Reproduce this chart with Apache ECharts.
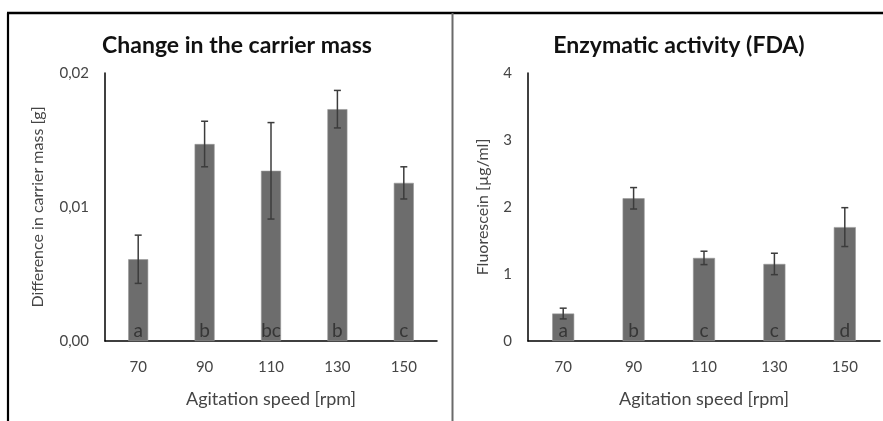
<!DOCTYPE html>
<html>
<head>
<meta charset="utf-8">
<script src="https://cdn.jsdelivr.net/npm/echarts@6/dist/echarts.min.js"></script>
<style>
  html, body { margin: 0; padding: 0; background: #fff; }
  #chart { width: 883px; height: 421px; }
</style>
</head>
<body>
<div id="chart"></div>
<script>
// Agitation speeds shared by both panels
const speeds = ['70', '90', '110', '130', '150'];

// Panel 1: change in carrier mass [g]
const massMean = [0.0061, 0.0147, 0.0127, 0.0173, 0.0118];
const massErr = [0.0018, 0.0017, 0.0036, 0.0014, 0.0012];
const massGroups = ['a', 'b', 'bc', 'b', 'c'];
const massTicks = [0, 0.01, 0.02];

// Panel 2: enzymatic activity, fluorescein [µg/ml]
const fdaMean = [0.41, 2.13, 1.24, 1.15, 1.70];
const fdaErr = [0.08, 0.16, 0.10, 0.16, 0.29];
const fdaGroups = ['a', 'b', 'c', 'c', 'd'];
const fdaTicks = [0, 1, 2, 3, 4];

const FONT = 'Lato, "Open Sans", sans-serif';
const BAR = '#6d6d6d';
const TXT = '#454545';

function errRows(mean, err) {
  return mean.map((m, i) => [i, m - err[i], m + err[i]]);
}

// Vertical whisker with caps, placed through the grid's own scales
function renderErr(params, api) {
  const x = api.value(0);
  const lo = api.coord([x, api.value(1)]);
  const hi = api.coord([x, api.value(2)]);
  const cap = 3.5;
  const style = { stroke: '#3c3c3c', lineWidth: 1.5 };
  return {
    type: 'group',
    children: [
      { type: 'line', shape: { x1: lo[0], y1: lo[1], x2: hi[0], y2: hi[1] }, style },
      { type: 'line', shape: { x1: hi[0] - cap, y1: hi[1], x2: hi[0] + cap, y2: hi[1] }, style },
      { type: 'line', shape: { x1: lo[0] - cap, y1: lo[1], x2: lo[0] + cap, y2: lo[1] }, style }
    ]
  };
}

function xAxisFor(gridIndex) {
  return {
    type: 'category', gridIndex, data: speeds,
    name: 'Agitation speed [rpm]', nameLocation: 'middle', nameGap: 49,
    nameTextStyle: { fontFamily: FONT, fontSize: 18, color: TXT },
    axisLine: { lineStyle: { color: '#000', width: 1.5 } },
    axisTick: { show: false },
    axisLabel: { fontFamily: FONT, fontSize: 15, color: TXT, margin: 19 }
  };
}

function yAxisFor(gridIndex, ticks, name, gap, fmt) {
  return {
    type: 'value', gridIndex,
    min: ticks[0], max: ticks[ticks.length - 1], interval: ticks[1] - ticks[0],
    name, nameLocation: 'middle', nameGap: gap,
    nameTextStyle: { fontFamily: FONT, fontSize: 16, color: TXT },
    axisLine: { show: true, lineStyle: { color: '#000', width: 1.5 } },
    axisTick: { show: false },
    splitLine: { show: false },
    axisLabel: { fontFamily: FONT, fontSize: 15, color: TXT, margin: 16, formatter: fmt }
  };
}

function barSeries(idx, values, groups, width) {
  return {
    type: 'bar', xAxisIndex: idx, yAxisIndex: idx, data: values, barWidth: width,
    itemStyle: { color: BAR, borderColor: '#999', borderWidth: 0.6 },
    label: {
      show: true, position: 'insideBottom', distance: 1,
      fontFamily: FONT, fontSize: 19, color: '#363636',
      formatter: p => groups[p.dataIndex]
    },
    silent: true, animation: false
  };
}

function errSeries(idx, mean, err) {
  return {
    type: 'custom', xAxisIndex: idx, yAxisIndex: idx,
    data: errRows(mean, err), encode: { x: 0, y: [1, 2] },
    renderItem: renderErr, z: 5, silent: true, animation: false
  };
}

const chart = echarts.init(document.getElementById('chart'), null, { renderer: 'canvas' });
chart.setOption({
  backgroundColor: '#fff',
  animation: false,
  title: [
    { text: 'Change in the carrier mass', left: 232, top: 29, textAlign: 'center',
      textStyle: { fontFamily: FONT, fontSize: 23, fontWeight: 'bold', color: '#111' } },
    { text: 'Enzymatic activity (FDA)', left: 674, top: 29, textAlign: 'center',
      textStyle: { fontFamily: FONT, fontSize: 23, fontWeight: 'bold', color: '#111' } }
  ],
  grid: [
    { left: 105, top: 73, width: 332, height: 268, containLabel: false },
    { left: 528, top: 73, width: 352, height: 268, containLabel: false }
  ],
  xAxis: [xAxisFor(0), xAxisFor(1)],
  yAxis: [
    yAxisFor(0, massTicks, 'Difference in carrier mass [g]', 59,
      v => v.toFixed(2).replace('.', ',')),
    yAxisFor(1, fdaTicks, 'Fluorescein [µg/ml]', 37, v => String(v))
  ],
  series: [
    barSeries(0, massMean, massGroups, 20),
    errSeries(0, massMean, massErr),
    barSeries(1, fdaMean, fdaGroups, 22),
    errSeries(1, fdaMean, fdaErr)
  ],
  graphic: [
    // panel frame: top rule, left rule, divider between panels
    { type: 'line', shape: { x1: 7, y1: 13, x2: 883, y2: 13 }, style: { stroke: '#000', lineWidth: 2.5 } },
    { type: 'line', shape: { x1: 8, y1: 13, x2: 8, y2: 421 }, style: { stroke: '#000', lineWidth: 2.2 } },
    { type: 'line', shape: { x1: 452.5, y1: 13, x2: 452.5, y2: 421 }, style: { stroke: '#6a6a6a', lineWidth: 2 } }
  ]
});
</script>
</body>
</html>
